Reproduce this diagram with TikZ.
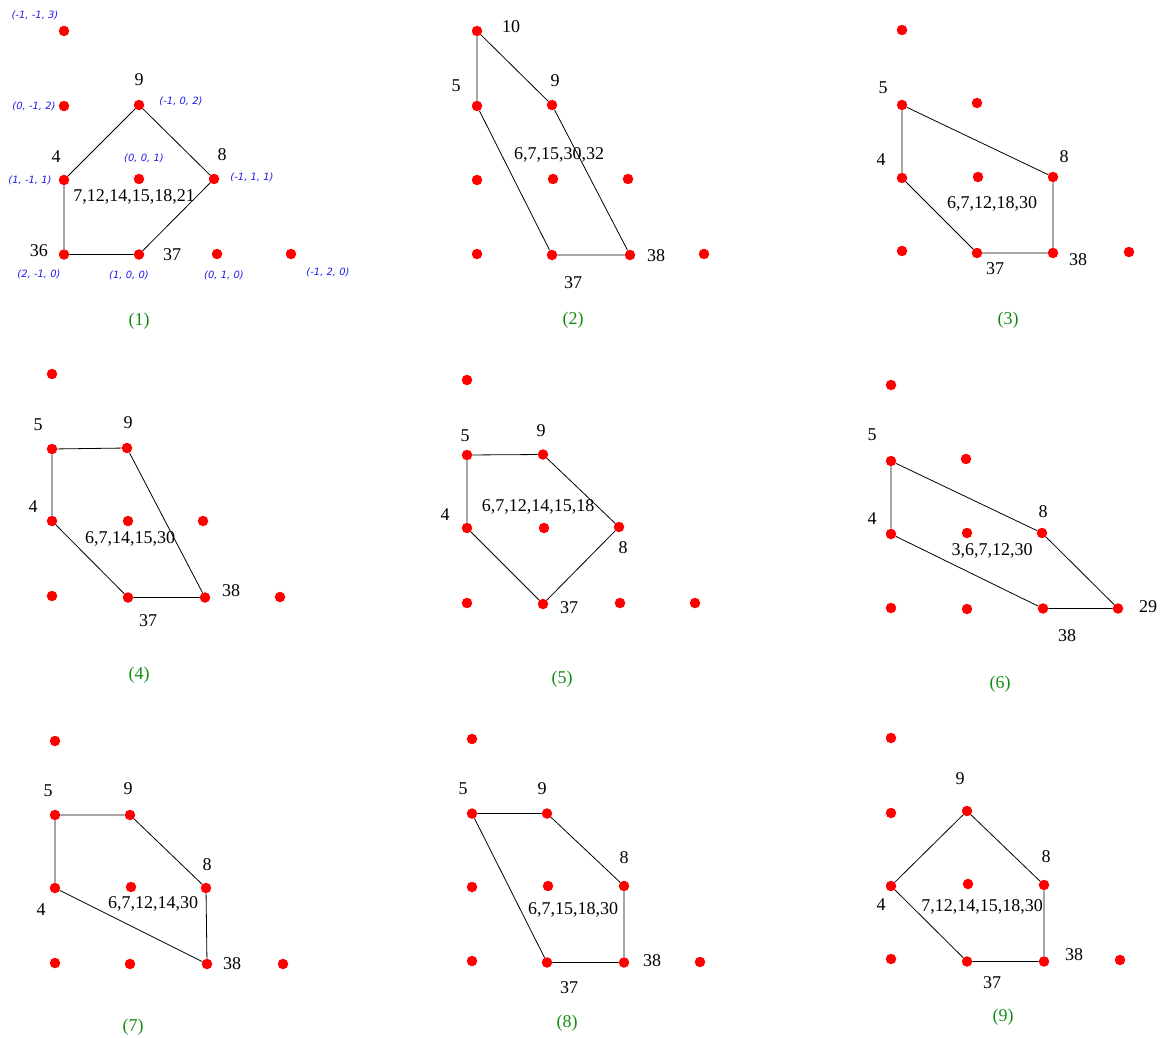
\documentclass[tikz,border=0pt]{standalone}
\usepackage{fontspec}
\setmainfont{Liberation Serif}
\newfontfamily\coordfont{DejaVu Sans}
\definecolor{dotred}{RGB}{255,0,0}
\definecolor{capgreen}{RGB}{20,140,20}
\definecolor{coordblue}{RGB}{30,30,235}
\begin{document}
\begin{tikzpicture}[x=1pt,y=-1pt,
  pt/.style={circle,fill=dotred,draw=none,minimum size=10.5pt,inner sep=0pt},
  num/.style={inner sep=0pt,font=\fontsize{18}{21}\selectfont},
  caplbl/.style={inner sep=0pt,text=capgreen,font=\fontsize{18}{21}\selectfont},
  crd/.style={inner sep=0pt,text=coordblue,font=\coordfont\itshape\fontsize{10}{12}\selectfont},
  hull/.style={draw=black,line width=0.8pt}]
\useasboundingbox[fill=white] (0,0) rectangle (1160,1038);

% ---------- Panel 1 ----------
\node[pt] (a1) at (64,31) {};
\node[pt] (a2) at (64,106) {};
\node[pt] (a3) at (139,105) {};
\node[pt] (a4) at (64,180) {};
\node[pt] (a5) at (139,179) {};
\node[pt] (a6) at (214,179) {};
\node[pt] (a7) at (64,254.5) {};
\node[pt] (a8) at (139,254.5) {};
\node[pt] (a9) at (217,254) {};
\node[pt] (a10) at (291,254) {};
\draw[hull] (a4) -- (a3) -- (a6) -- (a8) -- (a7) -- (a4);
\node[num] (a3l) at (139,80) {9};
\node[num] (a4l) at (56,157) {4};
\node[num] (a6l) at (222,155) {8};
\node[num] (a7l) at (39,251) {36};
\node[num] (a8l) at (172,255) {37};
\node[num] (ac) at (134,197) {7,12,14,15,18,21};
\node[caplbl] (acap) at (139,321) {(1)};
\node[crd] (ak1) at (35,15) {(-1, -1, 3)};
\node[crd] (ak2) at (34,106) {(0, -1, 2)};
\node[crd] (ak3) at (181,101) {(-1, 0, 2)};
\node[crd] (ak5) at (144,158) {(0, 0, 1)};
\node[crd] (ak4) at (30,180) {(1, -1, 1)};
\node[crd] (ak6) at (252,177) {(-1, 1, 1)};
\node[crd] (ak7) at (39,274) {(2, -1, 0)};
\node[crd] (ak8) at (129,275) {(1, 0, 0)};
\node[crd] (ak9) at (224,275) {(0, 1, 0)};
\node[crd] (ak10) at (328,272) {(-1, 2, 0)};

% ---------- Panel 2 ----------
\node[pt] (b1) at (477,31) {};
\node[pt] (b2) at (477,106) {};
\node[pt] (b3) at (552,105) {};
\node[pt] (b4) at (477,180) {};
\node[pt] (b5) at (553,179) {};
\node[pt] (b6) at (628,179) {};
\node[pt] (b7) at (477,254) {};
\node[pt] (b8) at (552,255) {};
\node[pt] (b9) at (630,255) {};
\node[pt] (b10) at (704,254) {};
\draw[hull] (b1) -- (b2) -- (b8) -- (b9) -- (b3) -- (b1);
\node[num] (b1l) at (511,27) {10};
\node[num] (b2l) at (456,86) {5};
\node[num] (b3l) at (555,81) {9};
\node[num] (b9l) at (656,256) {38};
\node[num] (b8l) at (573,283) {37};
\node[num] (bc) at (559,155) {6,7,15,30,32};
\node[caplbl] (bcap) at (573,320) {(2)};

% ---------- Panel 3 ----------
\node[pt] (c1) at (902,30) {};
\node[pt] (c2) at (902,105) {};
\node[pt] (c3) at (977,103) {};
\node[pt] (c4) at (902,178) {};
\node[pt] (c5) at (978,177) {};
\node[pt] (c6) at (1053,177) {};
\node[pt] (c7) at (902,251) {};
\node[pt] (c8) at (977,253) {};
\node[pt] (c9) at (1053,253) {};
\node[pt] (c10) at (1129,252) {};
\draw[hull] (c2) -- (c6) -- (c9) -- (c8) -- (c4) -- (c2);
\node[num] (c2l) at (883,88) {5};
\node[num] (c4l) at (881,160) {4};
\node[num] (c6l) at (1064,157) {8};
\node[num] (c8l) at (995,269) {37};
\node[num] (c9l) at (1078,260) {38};
\node[num] (cc) at (992,204) {6,7,12,18,30};
\node[caplbl] (ccap) at (1008,320) {(3)};

% ---------- Panel 4 ----------
\node[pt] (d1) at (52,374) {};
\node[pt] (d2) at (52,449) {};
\node[pt] (d3) at (127,448) {};
\node[pt] (d4) at (52,521) {};
\node[pt] (d5) at (128,521) {};
\node[pt] (d6) at (203,521) {};
\node[pt] (d7) at (52,596) {};
\node[pt] (d8) at (128,597.5) {};
\node[pt] (d9) at (205,597.5) {};
\node[pt] (d10) at (280,597) {};
\draw[hull] (d2) -- (d3) -- (d9) -- (d8) -- (d4) -- (d2);
\node[num] (d2l) at (38,425) {5};
\node[num] (d3l) at (128,423) {9};
\node[num] (d4l) at (33,507) {4};
\node[num] (d9l) at (231,591) {38};
\node[num] (d8l) at (148,621) {37};
\node[num] (dc) at (130,539) {6,7,14,15,30};
\node[caplbl] (dcap) at (139,675) {(4)};

% ---------- Panel 5 ----------
\node[pt] (e1) at (467,380) {};
\node[pt] (e2) at (467,455) {};
\node[pt] (e3) at (543,454.5) {};
\node[pt] (e4) at (467,528) {};
\node[pt] (e5) at (544,528) {};
\node[pt] (e6) at (619,527) {};
\node[pt] (e7) at (467,603) {};
\node[pt] (e8) at (543,604) {};
\node[pt] (e9) at (620,603) {};
\node[pt] (e10) at (695,603) {};
\draw[hull] (e2) -- (e3) -- (e6) -- (e8) -- (e4) -- (e2);
\node[num] (e2l) at (465,436) {5};
\node[num] (e3l) at (541,431) {9};
\node[num] (e4l) at (445,515) {4};
\node[num] (e6l) at (623,548) {8};
\node[num] (e8l) at (569,608) {37};
\node[num] (ec) at (538,507) {6,7,12,14,15,18};
\node[caplbl] (ecap) at (562,679) {(5)};

% ---------- Panel 6 ----------
\node[pt] (f1) at (891,385) {};
\node[pt] (f2) at (891,461) {};
\node[pt] (f3) at (966,459) {};
\node[pt] (f4) at (891,534) {};
\node[pt] (f5) at (967,533) {};
\node[pt] (f6) at (1042,533) {};
\node[pt] (f7) at (891,608) {};
\node[pt] (f8) at (967,609) {};
\node[pt] (f9) at (1043,608.5) {};
\node[pt] (f10) at (1118,608.5) {};
\draw[hull] (f2) -- (f6) -- (f10) -- (f9) -- (f4) -- (f2);
\node[num] (f2l) at (872,435) {5};
\node[num] (f4l) at (872,519) {4};
\node[num] (f6l) at (1043,512) {8};
\node[num] (f10l) at (1148,607) {29};
\node[num] (f9l) at (1067,636) {38};
\node[num] (fc) at (992,551) {3,6,7,12,30};
\node[caplbl] (fcap) at (1000,684) {(6)};

% ---------- Panel 7 ----------
\node[pt] (g1) at (55,741) {};
\node[pt] (g2) at (55,815) {};
\node[pt] (g3) at (130,815) {};
\node[pt] (g4) at (55,888) {};
\node[pt] (g5) at (131,887) {};
\node[pt] (g6) at (206,888) {};
\node[pt] (g7) at (55,963) {};
\node[pt] (g8) at (130,964) {};
\node[pt] (g9) at (207,964) {};
\node[pt] (g10) at (283,964) {};
\draw[hull] (g2) -- (g3) -- (g6) -- (g9) -- (g4) -- (g2);
\node[num] (g2l) at (48,791) {5};
\node[num] (g3l) at (128,789) {9};
\node[num] (g6l) at (207,865) {8};
\node[num] (g4l) at (41,910) {4};
\node[num] (g9l) at (232,964) {38};
\node[num] (gc) at (153,904) {6,7,12,14,30};
\node[caplbl] (gcap) at (133,1027) {(7)};

% ---------- Panel 8 ----------
\node[pt] (h1) at (472,739) {};
\node[pt] (h2) at (472,813.5) {};
\node[pt] (h3) at (547,813.5) {};
\node[pt] (h4) at (472,887) {};
\node[pt] (h5) at (548,886) {};
\node[pt] (h6) at (624,886) {};
\node[pt] (h7) at (472,961) {};
\node[pt] (h8) at (547,962.5) {};
\node[pt] (h9) at (624,962.5) {};
\node[pt] (h10) at (700,962) {};
\draw[hull] (h2) -- (h3) -- (h6) -- (h9) -- (h8) -- (h2);
\node[num] (h2l) at (463,789) {5};
\node[num] (h3l) at (542,789) {9};
\node[num] (h6l) at (624,858) {8};
\node[num] (h9l) at (652,961) {38};
\node[num] (h8l) at (569,988) {37};
\node[num] (hc) at (573,910) {6,7,15,18,30};
\node[caplbl] (hcap) at (567,1023) {(8)};

% ---------- Panel 9 ----------
\node[pt] (k1) at (891,738) {};
\node[pt] (k2) at (891,813) {};
\node[pt] (k3) at (967,811) {};
\node[pt] (k4) at (891,886) {};
\node[pt] (k5) at (968,884) {};
\node[pt] (k6) at (1044,885) {};
\node[pt] (k7) at (891,959) {};
\node[pt] (k8) at (967,961.5) {};
\node[pt] (k9) at (1044,961.5) {};
\node[pt] (k10) at (1120,960) {};
\draw[hull] (k3) -- (k6) -- (k9) -- (k8) -- (k4) -- (k3);
\node[num] (k3l) at (960,779) {9};
\node[num] (k6l) at (1046,857) {8};
\node[num] (k4l) at (881,905) {4};
\node[num] (k9l) at (1074,955) {38};
\node[num] (k8l) at (992,983) {37};
\node[num] (kc) at (982,907) {7,12,14,15,18,30};
\node[caplbl] (kcap) at (1003,1017) {(9)};
\end{tikzpicture}
\end{document}
